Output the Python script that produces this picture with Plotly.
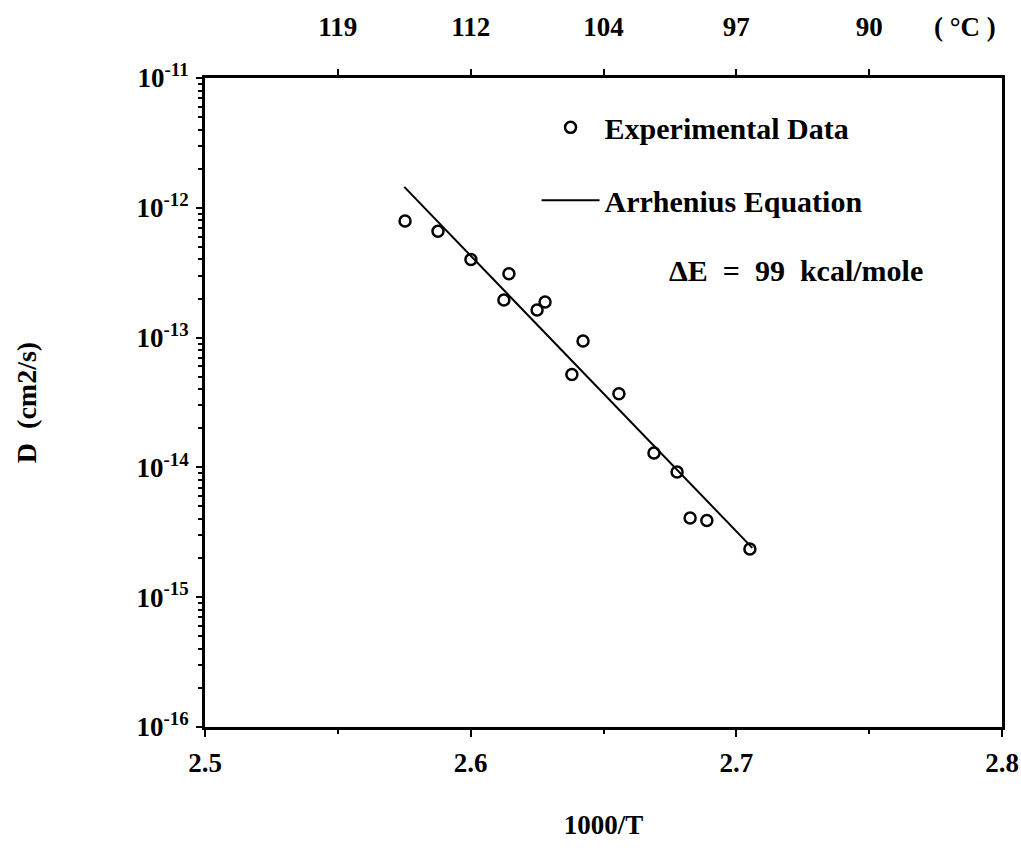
import plotly.graph_objects as go

# Data
inv_T = [2.5753, 2.5877, 2.6001, 2.6144, 2.6125, 2.6250, 2.6280, 2.6423,
         2.6381, 2.6558, 2.6690, 2.6777, 2.6826, 2.6889, 2.7051]
D_exp = [7.9e-13, 6.6e-13, 4.0e-13, 3.1e-13, 1.95e-13, 1.63e-13, 1.88e-13, 9.4e-14,
         5.2e-14, 3.7e-14, 1.29e-14, 9.2e-15, 4.07e-15, 3.9e-15, 2.35e-15]
fit_x = [2.575, 2.706]
fit_y = [1.45e-12, 2.4e-15]

x_ticks = [2.5, 2.6, 2.7, 2.8]
x_ticktext = ["2.5", "2.6", "2.7", "2.8"]
top_ticks = [2.55, 2.60, 2.65, 2.70, 2.75]
top_ticktext = ["119", "112", "104", "97", "90"]
y_ticks = [1e-16, 1e-15, 1e-14, 1e-13, 1e-12, 1e-11]
y_ticktext = ["10<sup>-16</sup>", "10<sup>-15</sup>", "10<sup>-14</sup>",
              "10<sup>-13</sup>", "10<sup>-12</sup>", "10<sup>-11</sup>"]

FONT = "Liberation Serif"
def f(size):
    return dict(family=FONT, size=size, color="black", weight="bold")

fig = go.Figure()
fig.add_trace(go.Scatter(
    x=inv_T, y=D_exp, mode="markers", name="Experimental Data",
    marker=dict(symbol="circle-open", size=11, color="black", line=dict(width=2.5, color="black")),
    legendgroup="a"))
fig.add_trace(go.Scatter(
    x=fit_x, y=fit_y, mode="lines", name="Arrhenius Equation",
    line=dict(color="black", width=2), legendgroup="b"))
# invisible trace to activate top axis
fig.add_trace(go.Scatter(x=[2.5, 2.8], y=[1e-16, 1e-16], xaxis="x2", mode="markers",
                         marker=dict(opacity=0), showlegend=False, hoverinfo="skip"))

fig.update_layout(
    width=1021, height=867,
    margin=dict(l=205, r=19, t=78, b=140, autoexpand=False),
    paper_bgcolor="white", plot_bgcolor="white",
    font=f(27),
    showlegend=True,
    legend=dict(x=0.416, y=0.964, xanchor="left", yanchor="top",
                font=f(30), bgcolor="rgba(0,0,0,0)", tracegroupgap=31, itemwidth=58),
    xaxis=dict(range=[2.5, 2.8], tickvals=x_ticks, ticktext=x_ticktext, automargin=False,
               showline=True, linecolor="black", linewidth=3, mirror=False,
               ticks="outside", ticklen=7, tickwidth=2, tickcolor="black",
               minor=dict(tickvals=[2.55, 2.65, 2.75], ticks="outside", ticklen=4, tickwidth=2, tickcolor="black"),
               showgrid=False, zeroline=False, tickfont=f(27), ticklabelstandoff=3,
               title=dict(text="1000/T", font=f(27), standoff=38)),
    xaxis2=dict(range=[2.5, 2.8], overlaying="x", side="top", anchor="y", automargin=False,
                tickvals=top_ticks, ticktext=top_ticktext,
                showline=True, linecolor="black", linewidth=3,
                ticks="outside", ticklen=6, tickwidth=2, tickcolor="black",
                showgrid=False, zeroline=False, tickfont=f(27), ticklabelstandoff=22),
    yaxis=dict(type="log", range=[-16, -11], tickvals=y_ticks, ticktext=y_ticktext, automargin=False,
               showline=True, linecolor="black", linewidth=3, mirror=True,
               ticks="outside", ticklen=6, tickwidth=2, tickcolor="black",
               minor=dict(dtick="D1", ticks="outside", ticklen=4, tickwidth=1.5, tickcolor="black"),
               showgrid=False, zeroline=False, tickfont=f(27), ticklabelstandoff=2,
               title=dict(text="D  (cm2/s)", font=f(28), standoff=92)),
    annotations=[
        dict(text="( °C )", x=0.9536, y=1.0786, xref="paper", yref="paper",
             showarrow=False, font=f(27), xanchor="center", yanchor="middle"),
        dict(text="ΔE  =  99  kcal/mole", x=0.5797, y=0.704, xref="paper", yref="paper",
             showarrow=False, font=f(30), xanchor="left", yanchor="middle"),
    ],
)

fig.write_html("out.html")
